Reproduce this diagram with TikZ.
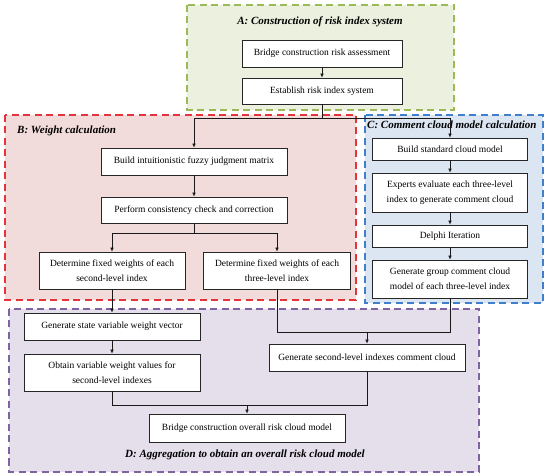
\documentclass[tikz,border=0pt]{standalone}
\usepackage{fontspec}
\setmainfont{Liberation Serif}
\usetikzlibrary{arrows.meta}
\definecolor{gAline}{HTML}{9BBB59}
\definecolor{gAfill}{HTML}{EBF1DE}
\definecolor{rBline}{HTML}{E2343A}
\definecolor{rBfill}{HTML}{F2DCDB}
\definecolor{bCline}{HTML}{3F7FCB}
\definecolor{bCfill}{HTML}{DCE6F2}
\definecolor{pDline}{HTML}{8064A2}
\definecolor{pDfill}{HTML}{E5DFEC}
\begin{document}
\begin{tikzpicture}[x=1pt,y=-1pt,
  region/.style={line width=1.6pt, dash pattern=on 7pt off 4.5pt},
  box/.style={draw=black!85, fill=white, line width=0.7pt, inner sep=1pt, align=center,
    font=\fontsize{9.5}{14.5}\selectfont},
  ttl/.style={font=\fontsize{11}{13}\selectfont\bfseries\itshape, inner sep=0pt},
  conn/.style={line width=0.7pt, draw=black!90},
  arr/.style={conn, -{Latex[length=4pt,width=3.6pt]}}]
\useasboundingbox (0,0) rectangle (550,476);
% regions
\draw[region, draw=gAline, fill=gAfill] (187,5) rectangle (454,110);
\draw[region, draw=rBline, fill=rBfill] (5,115) rectangle (356,300);
\draw[region, draw=bCline, fill=bCfill] (365,115) rectangle (543,303);
\draw[region, draw=pDline, fill=pDfill] (9,309) rectangle (479,472);
% titles
\node[ttl] (ta) at (320,22) {A: Construction of risk index system};
\node[ttl, anchor=west] (tb) at (17,131) {B: Weight calculation};
\node[ttl, anchor=west] (tc) at (367,125) {C: Comment cloud model calculation};
\node[ttl] (td) at (245,455) {D: Aggregation to obtain an overall risk cloud model};
% A
\node[box, minimum width=160pt, minimum height=27pt] (a1) at (322,53.5) {Bridge construction risk assessment};
\node[box, minimum width=160pt, minimum height=26pt] (a2) at (322,91) {Establish risk index system};
% B
\node[box, minimum width=186pt, minimum height=27pt] (b1) at (194,161.5) {Build intuitionistic fuzzy judgment matrix};
\node[box, minimum width=186pt, minimum height=26pt] (b2) at (194,210) {Perform consistency check and correction};
\node[box, minimum width=146pt, minimum height=37pt] (b3) at (112,270.5) {Determine fixed weights of each\\second-level index};
\node[box, minimum width=147pt, minimum height=37pt] (b4) at (277,270.5) {Determine fixed weights of each\\three-level index};
% C
\node[box, minimum width=155pt, minimum height=22pt] (c1) at (450,149) {Build standard cloud model};
\node[box, minimum width=155pt, minimum height=39pt] (c2) at (450,192.5) {Experts evaluate each three-level\\index to generate comment cloud};
\node[box, minimum width=155pt, minimum height=22pt] (c3) at (450,236) {Delphi Iteration};
\node[box, minimum width=155pt, minimum height=38pt] (c4) at (450,279) {Generate group comment cloud\\model of each three-level index};
% D
\node[box, minimum width=176pt, minimum height=27pt] (d1) at (112,326.5) {Generate state variable weight vector};
\node[box, minimum width=176pt, minimum height=37pt] (d2) at (112,372.5) {Obtain variable weight values for\\second-level indexes};
\node[box, minimum width=196pt, minimum height=27pt] (d3) at (367,357.5) {Generate second-level indexes comment cloud};
\node[box, minimum width=196pt, minimum height=28pt] (d4) at (247,428) {Bridge construction overall risk cloud model};
% connectors
\draw[arr] (a1) -- (a2);
\coordinate (j1) at (322,118);
\draw[conn] (a2.south) -- (j1);
\draw[arr] (j1) -| (b1.north);
\draw[arr] (j1) -| (c1.north);
\draw[arr] (b1) -- (b2);
\coordinate (j2) at (194,233);
\draw[conn] (b2.south) -- (j2);
\draw[arr] (j2) -| (b3.north);
\draw[arr] (j2) -| (b4.north);
\draw[arr] (c1) -- (c2);
\draw[arr] (c2) -- (c3);
\draw[arr] (c3) -- (c4);
\draw[arr] (b3) -- (d1);
\coordinate (j3) at (d3.north |- 0,332);
\draw[conn] (b4.south) |- (c4.south |- j3) -- (c4.south);
\draw[arr] (j3) -- (d3.north);
\draw[arr] (d1) -- (d2);
\coordinate (j4) at (d4.north |- 0,405);
\draw[conn] (d2.south) |- (d3.south |- j4) -- (d3.south);
\draw[arr] (j4) -- (d4.north);
\end{tikzpicture}
\end{document}
